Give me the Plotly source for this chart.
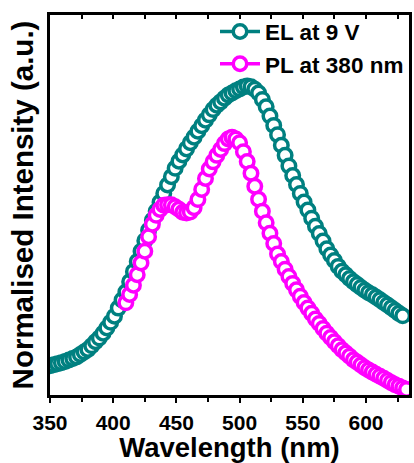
import plotly.graph_objects as go

# EL at 9 V (wavelength nm, normalised intensity)
el_wl = list(range(350, 630, 3))
el_int = [0.095, 0.098, 0.101, 0.104, 0.108, 0.113, 0.118, 0.123, 0.131, 0.139,
          0.147, 0.159, 0.172, 0.184, 0.200, 0.217, 0.235, 0.255, 0.281, 0.307,
          0.333, 0.366, 0.399, 0.432, 0.465, 0.499, 0.533, 0.565, 0.594, 0.623,
          0.652, 0.679, 0.706, 0.733, 0.756, 0.776, 0.796, 0.816, 0.834, 0.853,
          0.871, 0.889, 0.906, 0.923, 0.937, 0.948, 0.960, 0.970, 0.977, 0.984,
          0.990, 0.996, 0.999, 0.997, 0.989, 0.977, 0.956, 0.932, 0.902, 0.872,
          0.842, 0.808, 0.775, 0.741, 0.710, 0.681, 0.652, 0.624, 0.598, 0.572,
          0.546, 0.522, 0.498, 0.473, 0.453, 0.435, 0.416, 0.400, 0.389, 0.377,
          0.366, 0.357, 0.348, 0.339, 0.331, 0.324, 0.316, 0.308, 0.299, 0.291,
          0.282, 0.273, 0.264, 0.256]

# PL at 380 nm
pl_wl = list(range(410, 633, 3))
pl_int = [0.298, 0.325, 0.355, 0.389, 0.427, 0.465, 0.512, 0.552, 0.581, 0.600,
          0.614, 0.615, 0.615, 0.609, 0.601, 0.591, 0.589, 0.592, 0.606, 0.632,
          0.665, 0.700, 0.731, 0.754, 0.775, 0.794, 0.813, 0.828, 0.834, 0.828,
          0.816, 0.787, 0.755, 0.717, 0.675, 0.633, 0.594, 0.557, 0.523, 0.490,
          0.456, 0.432, 0.407, 0.383, 0.361, 0.340, 0.319, 0.299, 0.281, 0.264,
          0.246, 0.231, 0.215, 0.200, 0.186, 0.172, 0.159, 0.146, 0.136, 0.125,
          0.114, 0.106, 0.097, 0.088, 0.081, 0.074, 0.067, 0.061, 0.054, 0.047,
          0.040, 0.033, 0.028, 0.023, 0.018]

x_range = [350, 634]
y_range = [0, 1.229]
tick_vals = [350, 400, 450, 500, 550, 600]
tick_text = ["350", "400", "450", "500", "550", "600"]
minor_vals = [375, 425, 475, 525, 575, 625]

TEAL = "#008080"
MAGENTA = "#FF00FF"
FONT = "Liberation Sans"

fig = go.Figure()
fig.add_trace(go.Scatter(
    x=el_wl, y=el_int, mode="lines+markers", name="EL at 9 V",
    line=dict(color=TEAL, width=3.5),
    marker=dict(symbol="circle", size=13.5, color="white",
                line=dict(color=TEAL, width=3.5)),
))
fig.add_trace(go.Scatter(
    x=pl_wl, y=pl_int, mode="lines+markers", name="PL at 380 nm",
    line=dict(color=MAGENTA, width=3.5),
    marker=dict(symbol="circle", size=13.5, color="white",
                line=dict(color=MAGENTA, width=3.5)),
))
# helper trace for the top (mirrored) axis with inward ticks
fig.add_trace(go.Scatter(x=x_range, y=[None, None], xaxis="x2", mode="lines",
                         showlegend=False, hoverinfo="skip"))

fig.update_layout(
    width=414, height=463,
    margin=dict(l=50, r=2, t=15, b=67),
    paper_bgcolor="white", plot_bgcolor="white",
    font=dict(family=FONT, color="black"),
    showlegend=True,
    legend=dict(x=1, y=1.012, xanchor="right", yanchor="top",
                bgcolor="rgba(0,0,0,0)",
                font=dict(family=FONT, size=22.5, weight="bold"),
                itemwidth=40, tracegroupgap=0),
    xaxis=dict(
        range=x_range, tickvals=tick_vals, ticktext=tick_text,
        ticks="outside", ticklen=5, tickwidth=2, tickcolor="black",
        minor=dict(tickvals=minor_vals, ticks="outside",
                   ticklen=4, tickwidth=2, tickcolor="black"),
        showline=True, linewidth=3, linecolor="black", mirror=True,
        showgrid=False, zeroline=False,
        ticklabelstandoff=2,
        tickfont=dict(family=FONT, size=21, weight="bold"),
        title=dict(text="Wavelength (nm)", standoff=8,
                   font=dict(family=FONT, size=27.5, weight="bold")),
    ),
    xaxis2=dict(
        range=x_range, overlaying="x", side="top", anchor="y",
        tickvals=tick_vals, ticks="inside", ticklen=4, tickwidth=2,
        tickcolor="black", showticklabels=False,
        minor=dict(tickvals=minor_vals, ticks="inside",
                   ticklen=4, tickwidth=2, tickcolor="black"),
        showline=False, showgrid=False, zeroline=False,
    ),
    yaxis=dict(
        range=y_range, showticklabels=False, ticks="",
        showline=True, linewidth=3, linecolor="black", mirror=True,
        showgrid=False, zeroline=False,
        title=dict(text="Normalised Intensity (a.u.)", standoff=5,
                   font=dict(family=FONT, size=29.5, weight="bold")),
    ),
)

fig.write_html("out.html")
